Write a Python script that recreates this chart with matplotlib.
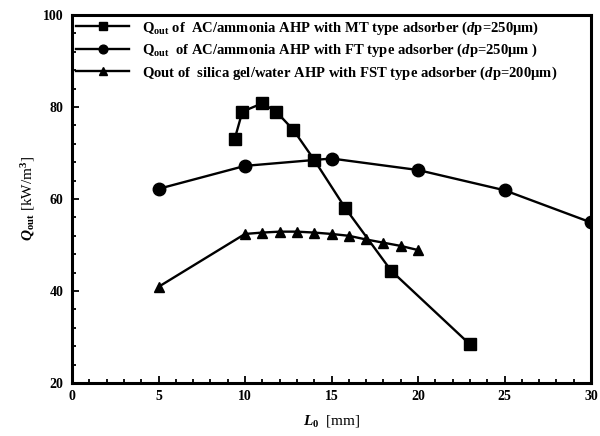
import matplotlib
matplotlib.use("Agg")
import matplotlib.pyplot as plt
from matplotlib.ticker import MultipleLocator

plt.rcParams['font.family'] = ['Liberation Serif', 'DejaVu Serif']
plt.rcParams['font.weight'] = 'bold'
plt.rcParams['mathtext.fontset'] = 'custom'
plt.rcParams['mathtext.rm'] = 'Liberation Serif:bold'
plt.rcParams['mathtext.bf'] = 'Liberation Serif:bold'
plt.rcParams['mathtext.it'] = 'Liberation Serif:italic:bold'

# Data
mt_x = [9.4, 9.85, 11.0, 11.8, 12.8, 14.0, 15.8, 18.45, 23.0]
mt_y = [73.0, 79.0, 80.8, 79.0, 75.0, 68.5, 58.0, 44.4, 28.4]

ft_x = [5, 10, 15, 20, 25, 30]
ft_y = [62.2, 67.2, 68.8, 66.3, 61.9, 54.9]

fst_x = [5, 10, 11, 12, 13, 14, 15, 16, 17, 18, 19, 20]
fst_y = [40.9, 52.4, 52.7, 52.9, 52.9, 52.7, 52.4, 52.0, 51.2, 50.5, 49.8, 48.9]

labels = [
    r"Q$_{\rm out}$ of  AC/ammonia AHP with MT type adsorber ($d$p=250$\mathrm{\mu}$m)",
    r"Q$_{\rm out}$  of AC/ammonia AHP with FT type adsorber ($d$p=250$\mathrm{\mu}$m )",
    r"Qout of  silica gel/water AHP with FST type adsorber ($d$p=200$\mathrm{\mu}$m)",
]

fig = plt.figure(figsize=(6.0, 4.36), dpi=100)
ax = fig.add_axes([0.12, 0.1216, 0.865, 0.8440])

ax.plot(mt_x, mt_y, color='black', lw=1.7, marker='s', ms=9, label=labels[0])
ax.plot(ft_x, ft_y, color='black', lw=1.7, marker='o', ms=9, label=labels[1])
ax.plot(fst_x, fst_y, color='black', lw=1.7, marker='^', ms=7.5, label=labels[2])

ax.set_xlim(0, 30)
ax.set_ylim(20, 100)
ax.xaxis.set_major_locator(MultipleLocator(5))
ax.xaxis.set_minor_locator(MultipleLocator(1))
ax.yaxis.set_major_locator(MultipleLocator(20))
ax.yaxis.set_minor_locator(MultipleLocator(4))
ax.tick_params(which='both', direction='in', labelsize=10, width=1.3)
ax.tick_params(which='major', length=5)
ax.tick_params(which='minor', length=3)
ax.tick_params(axis='x', pad=5)
ax.tick_params(axis='y', pad=6)
for lab in ax.get_xticklabels() + ax.get_yticklabels():
    lab.set_fontweight('bold')
for s in ax.spines.values():
    s.set_linewidth(2.2)

ax.set_xlabel(r"$L_{\rm 0}$  [mm]", fontsize=11, labelpad=7)
ax.set_ylabel(r"$Q_{\rm out}$ [kW/m$^{3}$]", fontsize=11, labelpad=4)

leg = ax.legend(loc='upper left', frameon=False, fontsize=10.5, handlelength=3.6,
                borderaxespad=0.1, borderpad=0.2, labelspacing=0.35,
                handletextpad=0.9, markerscale=0.7)

fig.savefig("out.png", dpi=100)
